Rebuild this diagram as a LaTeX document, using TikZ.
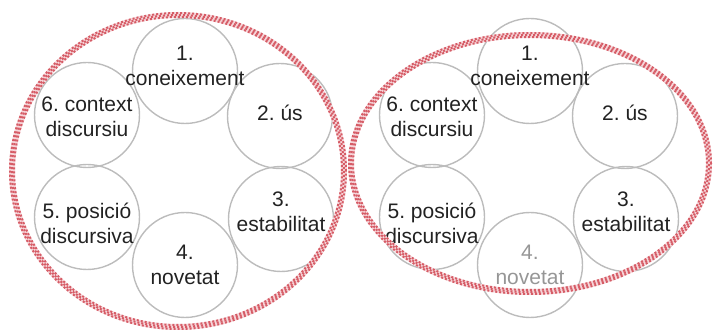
\documentclass[tikz,border=0pt]{standalone}
\usepackage{fontspec}
\setmainfont{Liberation Sans}
\usepackage{xcolor}
\usetikzlibrary{positioning}
\frenchspacing

\definecolor{petalgray}{RGB}{188,188,188}
\definecolor{ringred}{RGB}{214,92,102}
\definecolor{ringpink}{RGB}{246,214,218}
\definecolor{inkdark}{RGB}{34,34,34}
\definecolor{inkfaded}{RGB}{150,150,150}

\tikzset{
  petal/.style={circle, draw=petalgray, line width=1.4pt, minimum size=105pt, inner sep=0pt},
  petaltext/.style={align=center, text=inkdark, inner sep=0pt,
    font=\fontsize{21}{25}\selectfont},
  faded/.style={text=inkfaded},
  ringbase/.style={ringpink, line width=6pt},
  ringrow/.style={ringred, line width=2pt, dash pattern=on 2pt off 2pt}
}

% checkered ring: centre, x radius, y radius (in pt)
\newcommand{\checkring}[3]{%
  \draw[ringbase] (#1) ellipse [x radius=#2pt, y radius=#3pt];
  \draw[ringrow, dash phase=0pt] (#1) ellipse [x radius=#2pt-2pt, y radius=#3pt-2pt];
  \draw[ringrow, dash phase=2pt] (#1) ellipse [x radius=#2pt, y radius=#3pt];
  \draw[ringrow, dash phase=0pt] (#1) ellipse [x radius=#2pt+2pt, y radius=#3pt+2pt];
}

\begin{document}
\begin{tikzpicture}[x=1pt, y=-1pt]
    \useasboundingbox (0,0) rectangle (713,331);

    % left group, ring around all six
    \node[petal] (L1) at (185,71) {};
    \node[petal] (L2) at (280,116) {};
    \node[petal] (L3) at (281,219) {};
    \node[petal] (L4) at (185,265) {};
    \node[petal] (L5) at (87,217) {};
    \node[petal] (L6) at (87,115) {};
    \node[petaltext, yshift=5pt] (L1t) at (L1) {1.\\coneixement};
    \node[petaltext, yshift=3pt] (L2t) at (L2) {2. ús};
    \node[petaltext, yshift=7pt] (L3t) at (L3) {3.\\estabilitat};
    \node[petaltext] (L4t) at (L4) {4.\\novetat};
    \node[petaltext, yshift=-6pt] (L5t) at (L5) {5. posició\\discursiva};
    \node[petaltext, yshift=-2pt] (L6t) at (L6) {6. context\\discursiu};
    \coordinate (Lc) at (178,171);
    \checkring{Lc}{166}{156}

    % right group, 4 left outside the ring
    \begin{scope}[shift={(345,0)}]
    \node[petal] (R1) at (185,71) {};
    \node[petal] (R2) at (280,116) {};
    \node[petal] (R3) at (281,219) {};
    \node[petal] (R4) at (185,265) {};
    \node[petal] (R5) at (87,217) {};
    \node[petal] (R6) at (87,115) {};
    \node[petaltext, yshift=5pt] (R1t) at (R1) {1.\\coneixement};
    \node[petaltext, yshift=3pt] (R2t) at (R2) {2. ús};
    \node[petaltext, yshift=7pt] (R3t) at (R3) {3.\\estabilitat};
    \node[petaltext, faded] (R4t) at (R4) {4.\\novetat};
    \node[petaltext, yshift=-6pt] (R5t) at (R5) {5. posició\\discursiva};
    \node[petaltext, yshift=-2pt] (R6t) at (R6) {6. context\\discursiu};
    \coordinate (Rc) at (185,163.5);
    \checkring{Rc}{179}{128.5}
    \end{scope}
\end{tikzpicture}
\end{document}
